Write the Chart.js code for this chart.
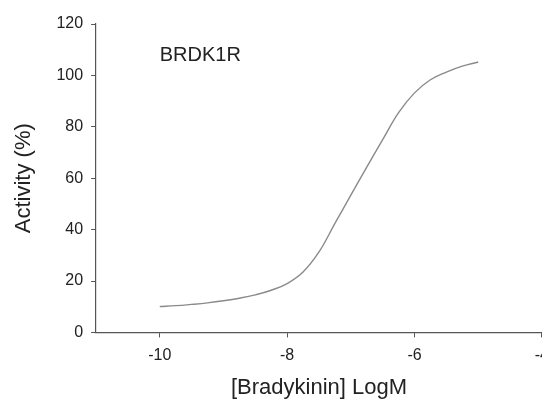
<!DOCTYPE html>
<html>
<head>
<meta charset="utf-8">
<script src="https://cdn.jsdelivr.net/npm/chart.js@4/dist/chart.umd.min.js"></script>
<style>
  html, body { margin: 0; padding: 0; background: #fff; overflow: hidden; }
  #wrap { width: 558px; height: 401px; }
</style>
</head>
<body>
<div id="wrap"><canvas id="doseChart"></canvas></div>
<script>
// log concentration of bradykinin (M)
const logDose = [-10, -9.75, -9.5, -9.25, -9, -8.75, -8.5, -8.25, -8, -7.75, -7.5,
  -7.25, -7, -6.75, -6.5, -6.25, -6, -5.75, -5.5, -5.25, -5];
// activity (%)
const activity = [10.1, 10.4, 10.9, 11.5, 12.3, 13.3, 14.6, 16.4, 19.0, 23.5, 31.3,
  42.4, 53.4, 64.3, 75.0, 85.5, 93.2, 98.3, 101.3, 103.6, 105.2];
const xTicks = [-10, -8, -6, -4];
const yTicks = [0, 20, 40, 60, 80, 100, 120];
const curveName = "BRDK1R";

const points = logDose.map((x, i) => ({ x: x, y: activity[i] }));

// draws the receptor name inside the plot, placed with the scales
const namePlugin = {
  id: "curveName",
  afterDatasetsDraw(chart) {
    const ctx = chart.ctx;
    const px = chart.scales.x.getPixelForValue(-10);
    const py = chart.scales.y.getPixelForValue(107.6);
    ctx.save();
    ctx.font = "20px 'Liberation Sans', Arial, sans-serif";
    ctx.fillStyle = "#222";
    ctx.textAlign = "left";
    ctx.textBaseline = "middle";
    ctx.fillText(curveName, px, py);
    ctx.restore();
  },
};

const font = "'Liberation Sans', Arial, sans-serif";

new Chart(document.getElementById("doseChart"), {
  type: "scatter",
  data: {
    datasets: [
      {
        data: points,
        showLine: true,
        borderColor: "#8a8a8a",
        borderWidth: 1.4,
        pointRadius: 0,
        tension: 0.4,
      },
    ],
  },
  options: {
    responsive: true,
    maintainAspectRatio: false,
    animation: false,
    layout: { padding: { left: 7, top: 24, right: 0, bottom: 0 } },
    plugins: { legend: { display: false }, tooltip: { enabled: false } },
    scales: {
      x: {
        type: "linear",
        min: -11,
        max: -4,
        afterBuildTicks: (axis) => {
          axis.ticks = xTicks.map((v) => ({ value: v }));
        },
        grid: { drawOnChartArea: false, drawTicks: true, tickLength: 5, color: "#555" },
        border: { display: true, color: "#555", width: 1.2 },
        ticks: { color: "#222", font: { family: font, size: 16 }, padding: 9, maxRotation: 0 },
        title: {
          display: true,
          text: "[Bradykinin] LogM",
          color: "#222",
          font: { family: font, size: 22 },
          padding: { top: 0, bottom: 0 },
        },
      },
      y: {
        min: 0,
        max: 120,
        afterBuildTicks: (axis) => {
          axis.ticks = yTicks.map((v) => ({ value: v }));
        },
        grid: { drawOnChartArea: false, drawTicks: true, tickLength: 5, color: "#555" },
        border: { display: true, color: "#555", width: 1.2 },
        ticks: { color: "#222", font: { family: font, size: 16 }, padding: 8 },
        title: {
          display: true,
          text: "Activity (%)",
          color: "#222",
          font: { family: font, size: 22 },
          padding: { top: 4, bottom: 11 },
        },
      },
    },
  },
  plugins: [namePlugin],
});
</script>
</body>
</html>
